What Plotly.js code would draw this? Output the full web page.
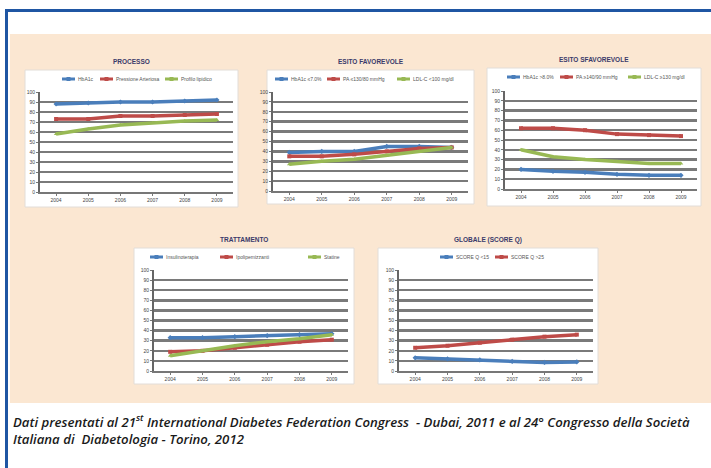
<!DOCTYPE html>
<html>
<head>
<meta charset="utf-8">
<script src="https://cdn.plot.ly/plotly-3.0.1.min.js"></script>
<style>
html,body{margin:0;padding:0;background:#fff;overflow:hidden;width:711px;height:468px;}
#wrap{position:relative;width:711px;height:468px;overflow:hidden;}
#band{position:absolute;left:10px;top:34px;width:701px;height:369px;background:#fbe7d2;z-index:0;}
#chart{position:absolute;left:0;top:0;width:711px;height:468px;overflow:hidden;z-index:1;}
#bandright{position:absolute;left:702px;top:34px;width:9px;height:369px;background:#fbe7d2;z-index:2;}
#topline{position:absolute;left:5px;top:9px;width:706px;height:2.5px;background:#1f56a3;z-index:3;}
#leftline{position:absolute;left:5px;top:9px;width:2.5px;height:459px;background:#1f56a3;z-index:3;}
svg.main-svg{overflow:hidden !important;}
</style>
</head>
<body>
<div id="wrap">
<div id="band"></div>
<div id="chart"></div>
<div id="bandright"></div>
<div id="topline"></div>
<div id="leftline"></div>
</div>
<script>
// ---------- DATA ----------
const years = ['2004', '2005', '2006', '2007', '2008', '2009'];
const yTicks = [0, 10, 20, 30, 40, 50, 60, 70, 80, 90, 100];

const processoTitle = 'PROCESSO';
const processoNames = ['HbA1c', 'Pressione Arteriosa', 'Profilo lipidico'];
const processoHbA1c = [88, 89, 90, 90, 91, 92];
const processoPA = [73, 73, 76, 76, 77, 78];
const processoLipidi = [58, 63, 67, 69, 71, 72];

const favTitle = 'ESITO FAVOREVOLE';
const favNames = ['HbA1c ≤7.0%', 'PA ≤130/80 mmHg', 'LDL-C <100 mg/dl'];
const favHbA1c = [39, 40, 40, 45, 45, 44];
const favPA = [35, 35, 37, 40, 43, 44];
const favLDL = [27, 30, 32, 36, 40, 44];

const sfavTitle = 'ESITO SFAVOREVOLE';
const sfavNames = ['HbA1c >8.0%', 'PA ≥140/90 mmHg', 'LDL-C ≥130 mg/dl'];
const sfavHbA1c = [20, 18, 17, 15, 14, 14];
const sfavPA = [62, 62, 60, 56, 55, 54];
const sfavLDL = [40, 33, 30, 28, 26, 26];

const trattTitle = 'TRATTAMENTO';
const trattNames = ['Insulinoterapia', 'Ipolipemizzanti', 'Statine'];
const trattInsulina = [33, 33, 34, 35, 36, 37];
const trattIpolip = [19, 20, 23, 26, 29, 31];
const trattStatine = [15, 20, 25, 29, 32, 36];

const scoreTitle = 'GLOBALE (SCORE Q)';
const scoreNames = ['SCORE Q <15', 'SCORE Q >25'];
const scoreLow = [13, 12, 11, 9.5, 8.5, 9];
const scoreHigh = [23, 25, 28, 31, 34, 36];

const caption1 = 'Dati presentati al 21<sup>st</sup> International Diabetes Federation Congress  - Dubai, 2011 e al 24° Congresso della Società';
const caption2 = 'Italiana di  Diabetologia - Torino, 2012';

// ---------- STYLE / LAYOUT ----------
const W = 711, H = 468;
const px = x => x / W;
const py = y => 1 - y / H;
const colors = ['#4a7ebb', '#be4b48', '#98b954'];
const symbols = ['diamond', 'square', 'triangle-up'];

const panels = [
  {title: processoTitle, names: processoNames, series: [processoHbA1c, processoPA, processoLipidi],
   box: [25, 70, 238, 207], plot: [40, 92, 233, 192], titleY: 62, legXs: [62, 100, 165], legY: 79},
  {title: favTitle, names: favNames, series: [favHbA1c, favPA, favLDL],
   box: [267, 70, 474, 204], plot: [273, 92, 468, 191], titleY: 62, legXs: [275, 327, 397], legY: 79},
  {title: sfavTitle, names: sfavNames, series: [sfavHbA1c, sfavPA, sfavLDL],
   box: [487, 68, 701, 206], plot: [505, 91, 697, 189], titleY: 60, legXs: [507, 560, 628], legY: 77},
  {title: trattTitle, names: trattNames, series: [trattInsulina, trattIpolip, trattStatine],
   box: [134, 248, 354, 384], plot: [154, 270, 348, 371], titleY: 240, legXs: [150, 220, 308], legY: 257},
  {title: scoreTitle, names: scoreNames, series: [scoreLow, scoreHigh],
   box: [378, 248, 598, 384], plot: [399, 270, 593, 371], titleY: 240, legXs: [440, 495], legY: 257}
];

const traces = [];
const layout = {
  width: W, height: H,
  margin: {l: 0, r: 0, t: 0, b: 0, pad: 0, autoexpand: false},
  paper_bgcolor: 'rgba(0,0,0,0)',
  plot_bgcolor: 'rgba(0,0,0,0)',
  font: {family: 'Liberation Sans, Arial, sans-serif', color: '#555'},
  showlegend: false,
  shapes: [],
  annotations: []
};

panels.forEach((p, i) => {
  const n = i + 1;
  const xa = 'xaxis' + (n === 1 ? '' : n);
  const ya = 'yaxis' + (n === 1 ? '' : n);
  const xr = 'x' + (n === 1 ? '' : n);
  const yr = 'y' + (n === 1 ? '' : n);

  layout.shapes.push({type: 'rect', xref: 'paper', yref: 'paper',
    x0: px(p.box[0]), x1: px(p.box[2]), y0: py(p.box[1]), y1: py(p.box[3]),
    fillcolor: '#ffffff', line: {color: '#e2ddd8', width: 1}, layer: 'below'});

  layout[xa] = {
    domain: [px(p.plot[0]), px(p.plot[2])], anchor: yr,
    type: 'category', categoryorder: 'array', categoryarray: years,
    range: [-0.5, 5.5], showgrid: false, showline: true, linecolor: '#777', linewidth: 2,
    ticks: 'outside', ticklen: 2, tickcolor: '#777', tickfont: {size: 5, color: '#444'},
    zeroline: false, fixedrange: true
  };
  layout[ya] = {
    domain: [py(p.plot[3]), py(p.plot[1])], anchor: xr,
    range: [0, 100], tickvals: yTicks, showgrid: true, gridcolor: '#7a7a7a', gridwidth: 2.5,
    showline: true, linecolor: '#666', linewidth: 2, ticks: 'outside', ticklen: 2, tickcolor: '#777',
    tickfont: {size: 5, color: '#444'}, zeroline: false, fixedrange: true
  };
  layout.annotations.push({xref: 'paper', yref: 'paper', x: (px(p.box[0]) + px(p.box[2])) / 2, y: py(p.titleY),
    text: '<b>' + p.title + '</b>', showarrow: false, xanchor: 'center', yanchor: 'middle',
    font: {size: 6.5, color: '#3a3a6a'}});

  p.series.forEach((vals, k) => {
    traces.push({
      type: 'scatter', mode: 'lines+markers', x: years, y: vals, name: p.names[k],
      xaxis: xr, yaxis: yr,
      line: {color: colors[k], width: 3.5},
      marker: {color: colors[k], size: 4, symbol: symbols[k]},
      hoverinfo: 'skip'
    });
    // custom compact legend entry
    const lx = p.legXs[k];
    layout.shapes.push({type: 'line', xref: 'paper', yref: 'paper', x0: px(lx), x1: px(lx + 13),
      y0: py(p.legY), y1: py(p.legY), line: {color: colors[k], width: 3}});
    layout.shapes.push({type: 'rect', xref: 'paper', yref: 'paper', x0: px(lx + 4.5), x1: px(lx + 8.5),
      y0: py(p.legY - 2), y1: py(p.legY + 2), fillcolor: colors[k], line: {width: 0}});
    layout.annotations.push({xref: 'paper', yref: 'paper', x: px(lx + 14), y: py(p.legY),
      xanchor: 'left', yanchor: 'middle', text: p.names[k], showarrow: false,
      font: {size: 5, color: '#555'}});
  });
});

layout.annotations.push({xref: 'paper', yref: 'paper', x: px(11), y: py(421), xanchor: 'left', yanchor: 'middle',
  text: '<i>' + caption1 + '</i>', showarrow: false,
  font: {size: 13.2, color: '#1a1a1a', family: 'Open Sans, sans-serif', weight: 600}});
layout.annotations.push({xref: 'paper', yref: 'paper', x: px(11), y: py(439), xanchor: 'left', yanchor: 'middle',
  text: '<i>' + caption2 + '</i>', showarrow: false,
  font: {size: 13.2, color: '#1a1a1a', family: 'Open Sans, sans-serif', weight: 600}});

Plotly.newPlot('chart', traces, layout, {displayModeBar: false, staticPlot: true});
</script>
</body>
</html>
